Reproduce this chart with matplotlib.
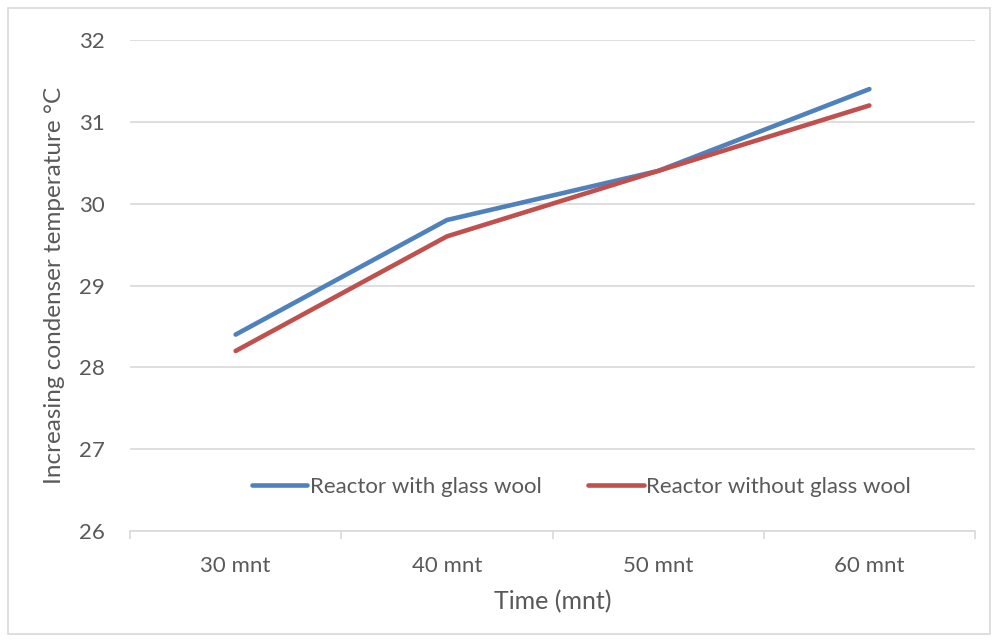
import matplotlib.pyplot as plt
from matplotlib.patches import Rectangle

categories = ['30 mnt', '40 mnt', '50 mnt', '60 mnt']
with_wool = [28.4, 29.8, 30.4, 31.4]
without_wool = [28.2, 29.6, 30.4, 31.2]
yticks = [26, 27, 28, 29, 30, 31, 32]

plt.rcParams['font.family'] = ['Lato', 'DejaVu Sans']
txt = '#595959'

fig = plt.figure(figsize=(9.93, 6.42), dpi=100)
ax = fig.add_axes([130/993, 111/642, 845/993, 491/642])

# outer chart border
fig.patches.append(Rectangle((8/993, 8/642), 982/993, 626/642, transform=fig.transFigure,
                             fill=False, edgecolor='#D9D9D9', linewidth=1.2))

x = range(len(categories))
ax.plot(x, with_wool, color='#4F81BD', lw=3.3, solid_capstyle='round', label='Reactor with glass wool')
ax.plot(x, without_wool, color='#C0504D', lw=3.3, solid_capstyle='round', label='Reactor without glass wool')

ax.set_xlim(-0.5, 3.5)
ax.set_ylim(26, 32)
ax.set_yticks(yticks)
ax.set_xticks(list(x))
ax.set_xticklabels(categories)
ax.set_xticks([-0.5, 0.5, 1.5, 2.5, 3.5], minor=True)
ax.grid(axis='y', color='#D9D9D9', lw=1.2)
ax.set_axisbelow(True)
for s in ['top', 'right', 'left']:
    ax.spines[s].set_visible(False)
ax.spines['bottom'].set_color('#D9D9D9')
ax.spines['bottom'].set_linewidth(1.2)
ax.tick_params(axis='y', length=0, pad=18, labelsize=16, labelcolor=txt)
ax.tick_params(axis='x', which='major', length=0, pad=18, labelsize=16, labelcolor=txt)
ax.tick_params(axis='x', which='minor', length=6, color='#D9D9D9', width=1.2)

ax.set_xlabel('Time (mnt)', fontsize=18, color=txt, labelpad=10)
ax.set_ylabel('Increasing condenser temperature °C', fontsize=17.5, color=txt, labelpad=10)

ax.legend(loc='center', bbox_to_anchor=(0.534, 0.09), ncol=2, frameon=False,
          fontsize=16, labelcolor=txt, handlelength=2.5, handletextpad=0.1, columnspacing=2.1)

plt.savefig('out.png', dpi=100)
